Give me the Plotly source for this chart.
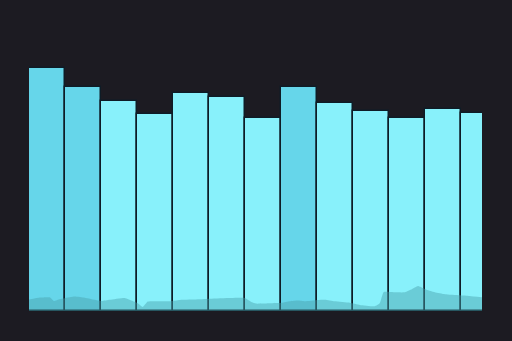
import plotly.graph_objects as go

categories = list(range(13))
bar_values = [243, 224, 210, 197, 218, 214, 193, 224, 208, 200, 193, 202, 198]
bar_kind = ["dark", "dark", "light", "light", "light", "light", "light",
            "dark", "light", "light", "light", "light", "light"]

area_x = [-0.5, -0.2, 0.08, 0.19, 0.35, 0.49, 0.77, 1.05, 1.38, 1.52, 1.74, 2.16,
          2.38, 2.52, 2.66, 2.8, 3.41, 3.69, 4.24, 5.49, 5.69, 5.8, 6.19, 6.52,
          6.74, 6.96, 7.16, 7.52, 7.72, 7.99, 8.41, 8.69, 9.1, 9.24, 9.35, 9.66,
          9.94, 10.13, 10.3, 10.49, 10.77, 11.05, 11.46, 11.74, 12.08]
area_y = [11.4, 13.4, 13.7, 10, 11.7, 12.7, 14.4, 13.2, 10.7, 10, 11.2, 13,
          10, 7.7, 4, 9.4, 9.7, 11, 11.7, 13, 8.7, 7.4, 7.7, 8.2,
          9.7, 10.4, 9.7, 11, 11.2, 9.7, 8.2, 6, 4.7, 7.7, 19, 18.7,
          18.7, 21.7, 25, 22, 18.7, 16.7, 15.7, 15, 13.7]

palette = {"dark": "#66d6ea", "light": "#88f1fb"}

fig = go.Figure()
fig.add_trace(go.Bar(
    x=categories, y=bar_values, width=1,
    marker=dict(color=[palette[k] for k in bar_kind],
                line=dict(color="#0e1c26", width=1.5)),
    hoverinfo="skip",
))
fig.add_trace(go.Scatter(
    x=area_x, y=area_y, mode="lines", fill="tozeroy",
    line=dict(width=0, shape="spline", smoothing=0.4),
    fillcolor="rgba(70,160,170,0.45)", hoverinfo="skip",
))
fig.update_layout(
    width=512, height=341,
    margin=dict(l=29, r=30, t=30, b=30),
    paper_bgcolor="#1c1b22", plot_bgcolor="#1c1b22",
    showlegend=False, bargap=0,
    xaxis=dict(range=[-0.5, 12.08], visible=False, showgrid=False, zeroline=False),
    yaxis=dict(range=[0, 281], visible=False, showgrid=False, zeroline=False),
)
fig.write_html("out.html")
